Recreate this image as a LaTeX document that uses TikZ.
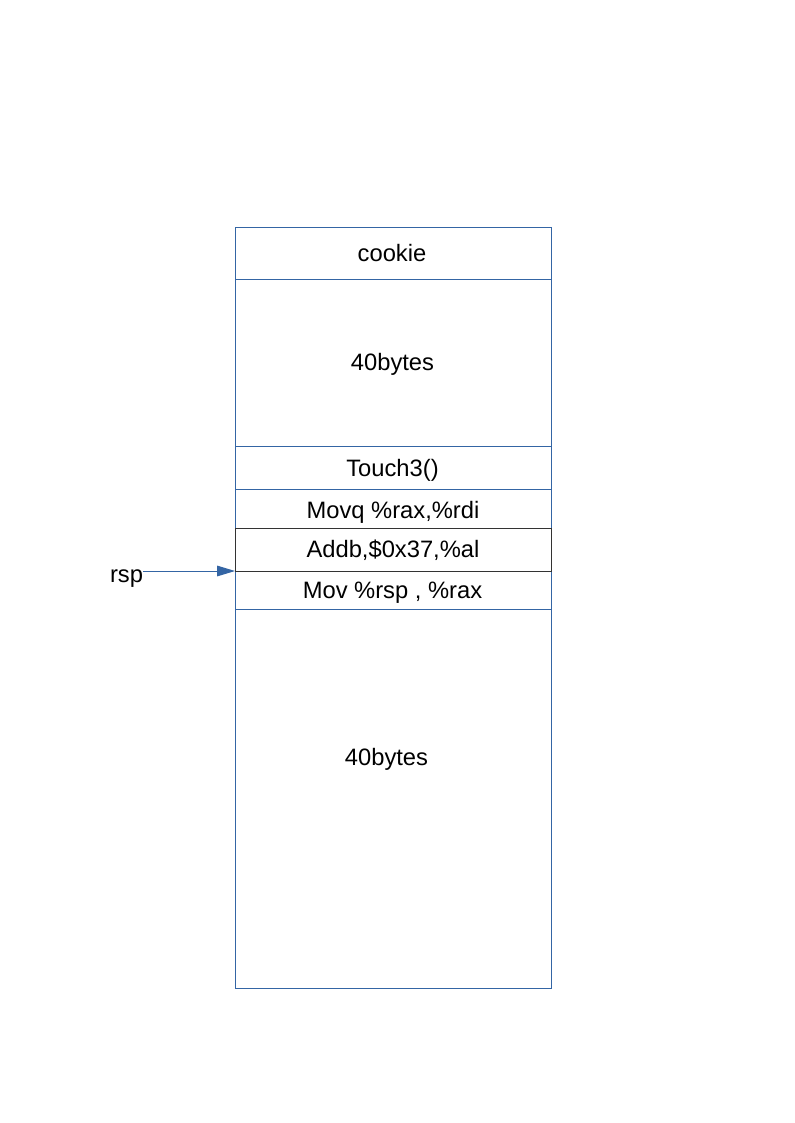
\documentclass[tikz,border=0pt]{standalone}
\usepackage{fontspec}
\setmainfont{Liberation Sans}
\usetikzlibrary{arrows.meta}
\definecolor{lineblue}{HTML}{3465A4}
\definecolor{darkline}{HTML}{333333}
\begin{document}
\begin{tikzpicture}[x=0.75pt,y=-0.75pt,
  cell/.style={draw=lineblue,line width=0.7pt,minimum width=237pt,inner sep=0pt,outer sep=0pt},
  lbl/.style={anchor=base,inner sep=0pt,font=\fontsize{17.8pt}{20pt}\selectfont,text=black}]
\useasboundingbox (0,0) rectangle (794,1123);
% cells (centres and heights in px)
\node[cell,minimum height=52*0.75pt]  (cookie) at (393,253) {};
\node[cell,minimum height=167*0.75pt] (top40)  at (393,362.5) {};
\node[cell,minimum height=43*0.75pt]  (touch)  at (393,467.5) {};
\node[cell,minimum height=39*0.75pt]  (movq)   at (393,508.5) {};
\node[cell,minimum height=38*0.75pt]  (mov)    at (393,590) {};
\node[cell,minimum height=379*0.75pt] (bot40)  at (393,798.5) {};
\node[cell,draw=darkline,minimum height=43*0.75pt] (addb) at (393,549.5) {};
% labels
\node[lbl] (tcookie) at (392,262) {cookie};
\node[lbl] (ttop40)  at (392.5,370.5) {40bytes};
\node[lbl] (ttouch)  at (392.5,476.5) {Touch3()};
\node[lbl] (tmovq)   at (393,518) {Movq \%rax,\%rdi};
\node[lbl] (taddb)   at (393,557.5) {Addb,\$0x37,\%al};
\node[lbl] (tmov)    at (392.5,598) {Mov \%rsp , \%rax};
\node[lbl] (tbot40)  at (386.5,765.5) {40bytes};
\node[lbl] (rsp)     at (126.5,582) {rsp};
% pointer
\draw[lineblue,line width=0.7pt,-{Triangle[length=13.5pt,width=8pt]}]
  (rsp.east |- mov.north west) -- (mov.north west);
\end{tikzpicture}
\end{document}
